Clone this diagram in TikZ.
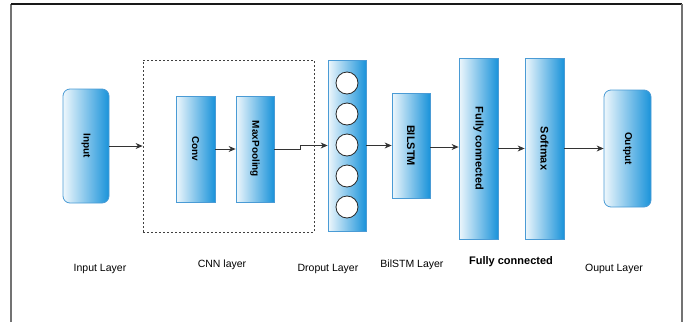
\documentclass[tikz,border=0pt]{standalone}
\usepackage{fontspec}
\setmainfont{Liberation Sans}
\usetikzlibrary{arrows.meta,calc}
\definecolor{boxedge}{HTML}{4A9BD5}
\definecolor{boxlight}{HTML}{EEF7FC}
\definecolor{boxdark}{HTML}{1A93DA}
\definecolor{wire}{HTML}{333333}
\tikzset{
  layerbox/.style={draw=boxedge, line width=0.8pt, left color=boxlight, right color=boxdark,
    inner sep=0pt, font=\bfseries\fontsize{10}{12}\selectfont},
  roundbox/.style={layerbox, rounded corners=7pt},
  unit/.style={circle, draw=black!85, line width=0.8pt, fill=white, minimum size=22pt, inner sep=0pt},
  group/.style={draw=black!75, line width=0.8pt, dash pattern=on 2pt off 2pt, inner sep=0pt},
  caption/.style={font=\fontsize{10.5}{12}\selectfont, text=black},
  link/.style={draw=wire, line width=0.8pt, -{Stealth[length=7pt,width=6pt]}},
  frame/.style={line width=1.4pt}
}
\newcommand{\vtext}[1]{\rotatebox{-90}{#1}}
\begin{document}
\begin{tikzpicture}[x=1pt,y=-1pt]
  \useasboundingbox (0,0) rectangle (689,322);
  % outer frame (open at the bottom)
  \draw[frame, draw=black!55] (11,322) -- (11,4);
  \draw[frame, draw=black!90] (11,4) -- (682,4);
  \draw[frame, draw=black!55] (682,4) -- (682,322);

  % layers
  \node[roundbox, minimum width=46pt, minimum height=114pt] (inp) at (86,146) {\vtext{Input}};
  \node[group, minimum width=171pt, minimum height=172pt] (cnn) at (228.5,146) {};
  \node[layerbox, minimum width=39pt, minimum height=106pt] (conv) at (195.5,149) {\vtext{Conv}};
  \node[layerbox, minimum width=38pt, minimum height=106pt] (pool) at (255,149) {\vtext{MaxPooling}};
  \node[layerbox, minimum width=38pt, minimum height=171pt] (drop) at (347,145.5) {};
  \foreach \i/\y in {1/83,2/114,3/145,4/176,5/207}
    \node[unit] (u\i) at (347,\y) {};
  \node[layerbox, minimum width=38pt, minimum height=105pt, font=\bfseries\fontsize{11}{12}\selectfont] (lstm) at (411,145.5) {\vtext{BILSTM}};
  \node[layerbox, minimum width=39pt, minimum height=181pt, font=\bfseries\fontsize{11}{12}\selectfont] (fc) at (478.5,148.5) {\vtext{Fully connected}};
  \node[layerbox, minimum width=39pt, minimum height=181pt, font=\bfseries\fontsize{11}{12}\selectfont] (soft) at (544.5,148.5) {\vtext{Softmax}};
  \node[roundbox, minimum width=47pt, minimum height=117pt] (out) at (627.5,148.5) {\vtext{Output}};

  % connectors
  \draw[link] (inp.east) -- (cnn.west);
  \draw[link] (conv.east) -- (pool.west);
  \coordinate (jog) at ($(pool.east)+(26,0)$);
  \draw[link] (pool.east) -- (jog) |- (drop.west);
  \draw[link] (drop.east) -- (drop.east -| lstm.west);
  \draw[link] ($(lstm.east)+(0,1.5)$) -- ($(lstm.east -| fc.west)+(0,1.5)$);
  \draw[link] (fc.east) -- (soft.west);
  \draw[link] (soft.east) -- (out.west);

  % captions
  \node[caption] (c1) at (100,269) {Input Layer};
  \node[caption] (c2) at (222,265) {CNN layer};
  \node[caption] (c3) at (328,269) {Droput Layer};
  \node[caption] (c4) at (412,265) {BilSTM Layer};
  \node[caption, font=\bfseries\fontsize{11}{12}\selectfont] (c5) at (511,262) {Fully connected};
  \node[caption] (c6) at (614,269) {Ouput Layer};
\end{tikzpicture}
\end{document}
